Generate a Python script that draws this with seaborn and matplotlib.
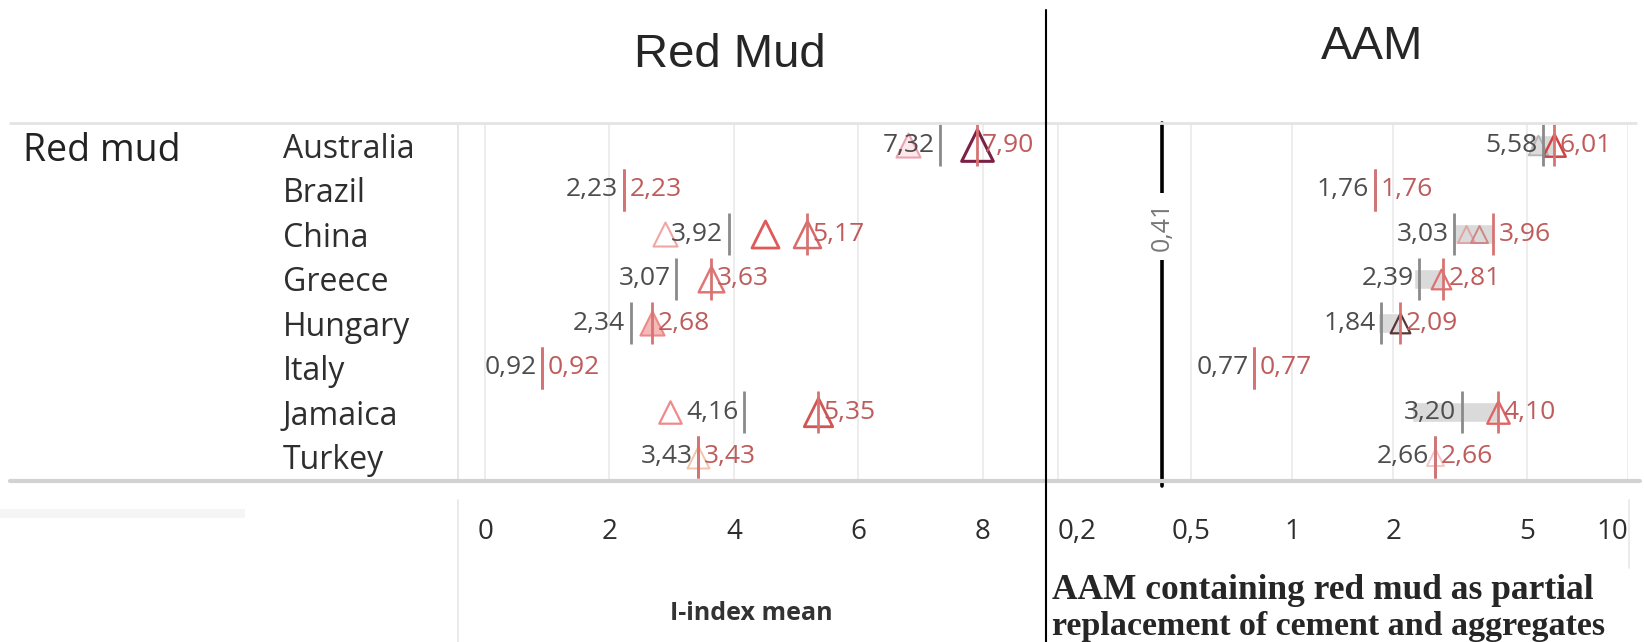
import numpy as np
import pandas as pd
import matplotlib
matplotlib.use("Agg")
import matplotlib.pyplot as plt
from matplotlib.lines import Line2D
from matplotlib.patches import Rectangle
import seaborn as sns

# ---------------- data ----------------
countries = ["Australia", "Brazil", "China", "Greece", "Hungary", "Italy", "Jamaica", "Turkey"]

# Red mud I-index: lower and upper mean per country
rm_low = [7.32, 2.23, 3.92, 3.07, 2.34, 0.92, 4.16, 3.43]
rm_high = [7.90, 2.23, 5.17, 3.63, 2.68, 0.92, 5.35, 3.43]

# AAM I-index: lower and upper mean per country, plus start of the shaded range
aam_low = [5.58, 1.76, 3.03, 2.39, 1.84, 0.77, 3.20, 2.66]
aam_high = [6.01, 1.76, 3.96, 2.81, 2.09, 0.77, 4.10, 2.66]
aam_band_start = [5.10, np.nan, 3.03, 2.30, 1.80, np.nan, 2.28, np.nan]
aam_reference = 0.41

# individual samples (triangles)
rm_pts_country = ["Australia", "Australia", "China", "China", "China", "Greece",
                  "Hungary", "Jamaica", "Jamaica", "Turkey"]
rm_pts_value = [6.80, 7.90, 2.90, 4.50, 5.17, 3.63, 2.68, 2.97, 5.35, 3.42]
aam_pts_country = ["Australia", "Australia", "China", "China", "Greece",
                   "Hungary", "Jamaica", "Turkey"]
aam_pts_value = [5.38, 6.01, 3.30, 3.60, 2.77, 2.09, 4.10, 2.66]

rm_ticks = [0, 2, 4, 6, 8]
rm_tick_labels = ["0", "2", "4", "6", "8"]
aam_ticks = [0.2, 0.5, 1, 2, 5, 10]
aam_tick_labels = ["0,2", "0,5", "1", "2", "5", "10"]

# ---------------- styles ----------------
rm_pts_style = [  # (size, fill, edge, linewidth)
    (300, "#fde8ec", "#eaa3b0", 1.5),
    (520, (1, 1, 1, 0), "#7d2046", 2.2),
    (300, (1, 1, 1, 0), "#f2a5a5", 1.5),
    (380, (1, 1, 1, 0), "#e05858", 2.0),
    (380, (1, 1, 1, 0), "#d86a6a", 1.8),
    (340, (1, 1, 1, 0), "#e07575", 1.8),
    (300, "#f5b9b9", "#ec8a8a", 1.5),
    (260, (1, 1, 1, 0), "#f08a8a", 1.6),
    (420, (1, 1, 1, 0), "#d05656", 2.0),
    (250, (1, 1, 1, 0), "#f3c4a8", 1.4),
]
aam_pts_style = [
    (200, "#dcdcdc", "#b5b5b5", 1.3),
    (260, (1, 1, 1, 0), "#d04444", 1.8),
    (150, (1, 1, 1, 0), "#e0a5a5", 1.4),
    (150, (1, 1, 1, 0), "#d08585", 1.4),
    (200, (1, 1, 1, 0), "#e07070", 1.6),
    (200, (1, 1, 1, 0), "#5a3535", 1.6),
    (260, (1, 1, 1, 0), "#e06464", 1.7),
    (150, (1, 1, 1, 0), "#f2c4c4", 1.3),
]

LOW_COLOR = "#4d4d4d"
HIGH_COLOR = "#bf5b5b"
LOW_LINE = "#8a8a8a"
HIGH_LINE = "#d77373"

W, H = 1644, 642
sns.set_theme(style="white")
plt.rcParams["font.family"] = ["Open Sans", "DejaVu Sans"]

fig = plt.figure(figsize=(W / 100, H / 100), dpi=100)


def fx(px):
    return px / W


def fy(py):
    return 1 - py / H


row_top, row_bot = 123, 479
ax_l = fig.add_axes([fx(458), fy(row_bot), fx(1046) - fx(458), fy(row_top) - fy(row_bot)])
ax_r = fig.add_axes([fx(1046), fy(row_bot), fx(1628) - fx(1046), fy(row_top) - fy(row_bot)])

rows = np.arange(len(countries))
row_of = {c: i for i, c in enumerate(countries)}


def fmt(v):
    return f"{v:.2f}".replace(".", ",")


def draw_pane(ax, low, high, pts_c, pts_v, pts_style):
    # individual samples as triangles
    for c, v, (s, fc, ec, lw) in zip(pts_c, pts_v, pts_style):
        sns.scatterplot(x=[v], y=[row_of[c]], ax=ax, marker="^", s=s,
                        color=fc, edgecolor=ec, linewidth=lw, zorder=2, legend=False)
    ax.vlines(low, rows - 0.47, rows + 0.47, color=LOW_LINE, lw=2, zorder=3)
    ax.vlines(high, rows - 0.47, rows + 0.47, color=HIGH_LINE, lw=2, zorder=3)
    for r, lo, hi in zip(rows, low, high):
        ax.annotate(fmt(lo), xy=(lo, r), xytext=(-4, 0), textcoords="offset points",
                    ha="right", va="center", fontsize=19, color=LOW_COLOR, zorder=4)
        ax.annotate(fmt(hi), xy=(hi, r), xytext=(4, 0), textcoords="offset points",
                    ha="left", va="center", fontsize=19, color=HIGH_COLOR, zorder=4)
    ax.set_ylim(len(countries) - 0.5, -0.5)
    for s in ax.spines.values():
        s.set_visible(False)
    ax.grid(axis="x", color="#ececec", lw=1.3, zorder=0)
    ax.grid(axis="y", visible=False)
    ax.set_xlabel("")
    ax.set_ylabel("")


# ---------- Red mud pane (linear) ----------
ax_l.set_xlim(-0.435, 9.016)
draw_pane(ax_l, rm_low, rm_high, rm_pts_country, rm_pts_value, rm_pts_style)
ax_l.set_xticks(rm_ticks)
ax_l.set_xticklabels(rm_tick_labels, fontsize=20, color="#2e2e2e")
ax_l.set_yticks(rows)
ax_l.set_yticklabels(countries, ha="left", fontsize=23, color="#2e2e2e")
ax_l.tick_params(axis="y", length=0, pad=126)
ax_l.tick_params(axis="x", length=0, pad=28)
ax_l.spines["left"].set_visible(True)
ax_l.spines["left"].set_color("#e2e2e2")
ax_l.spines["left"].set_linewidth(1.2)

# ---------- AAM pane (log) ----------
ax_r.set_xscale("log")
ax_r.set_xlim(0.1845, 10)
band = pd.DataFrame({"row": rows, "start": aam_band_start, "end": aam_high}).dropna()
ax_r.barh(band["row"], band["end"] - band["start"], left=band["start"], height=0.45,
          color="#dadada", zorder=1)
draw_pane(ax_r, aam_low, aam_high, aam_pts_country, aam_pts_value, aam_pts_style)
ax_r.set_xlim(0.1845, 10)
ax_r.xaxis.set_minor_locator(matplotlib.ticker.NullLocator())
ax_r.set_xticks(aam_ticks)
ax_r.set_xticklabels(aam_tick_labels, fontsize=20, color="#2e2e2e")
ax_r.tick_params(axis="x", length=0, pad=28)
ax_r.set_yticks([])
tl = ax_r.get_xticklabels()
tl[0].set_ha("left")
tl[-1].set_ha("right")

ax_r.axvline(aam_reference, ymin=-0.02, ymax=1, color="black", lw=2.6, zorder=3, clip_on=False)
ax_r.text(aam_reference, 1.82, fmt(aam_reference), rotation=90, ha="center", va="center",
          fontsize=18, color="#777777", zorder=5,
          bbox=dict(boxstyle="square,pad=0.35", fc="white", ec="none"))

# ---------- frame lines and headers ----------
fig.add_artist(Line2D([fx(10), fx(1636)], [fy(123), fy(123)], color="#e4e4e4", lw=2))
fig.add_artist(Line2D([fx(10), fx(1640)], [fy(481), fy(481)], color="#d2d2d2", lw=3))
fig.add_artist(Line2D([fx(458), fx(458)], [fy(500), fy(642)], color="#e6e6e6", lw=1.2))
fig.add_artist(Line2D([fx(1629), fx(1629)], [fy(500), fy(568)], color="#e8e8e8", lw=1.2))
fig.add_artist(Rectangle((fx(0), fy(518)), fx(245), fy(509) - fy(518), color="#f5f5f5", lw=0))
fig.add_artist(Line2D([fx(1046), fx(1046)], [fy(10), fy(642)], color="black", lw=1.5))

fig.text(fx(23), fy(151), "Red mud", fontsize=27, color="#222222", ha="left", va="center")
fig.text(fx(751), fy(613), "I-index mean", fontsize=18, fontweight="bold", color="#333333",
         ha="center", va="center")

fig.text(fx(730), fy(55), "Red Mud", fontsize=34, family="Liberation Sans", ha="center", va="center")
fig.text(fx(1372), fy(47), "AAM", fontsize=34, family="Liberation Sans", ha="center", va="center")

fig.text(fx(1052), fy(599), "AAM containing red mud as partial", fontsize=25.5,
         family="Liberation Serif", fontweight="bold", ha="left", va="baseline")
fig.text(fx(1052), fy(634.5), "replacement of cement and aggregates", fontsize=24.5,
         family="Liberation Serif", fontweight="bold", ha="left", va="baseline")

fig.savefig("out.png", dpi=100, facecolor="white")
